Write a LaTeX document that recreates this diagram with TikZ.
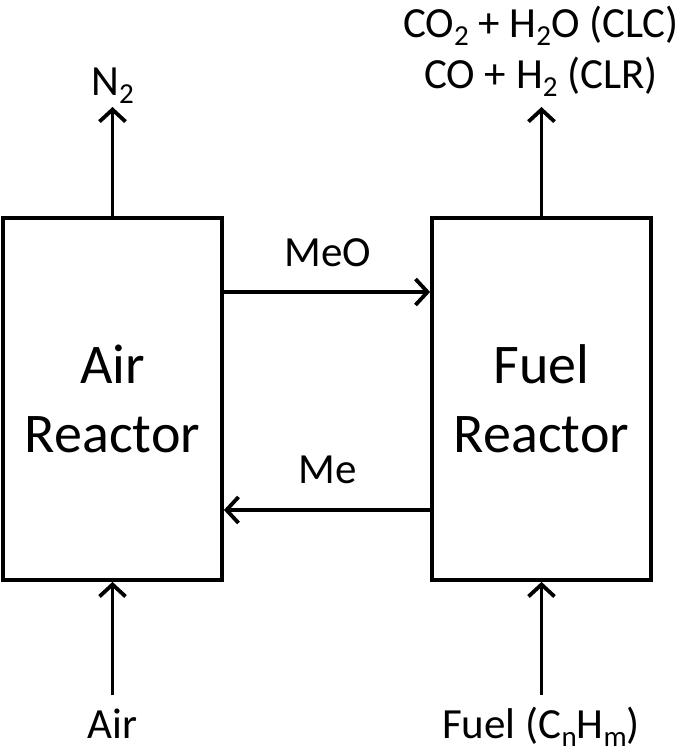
\documentclass[tikz,border=0pt]{standalone}
\usepackage{fontspec}
\setmainfont{Carlito}
\usetikzlibrary{arrows.meta}
\newcommand\lsub[1]{\raisebox{-0.2em}{\fontsize{29}{29}\selectfont #1}}
\begin{document}
\begin{tikzpicture}[x=1pt,y=-1pt,
  box/.style={draw, line width=3.8pt, minimum width=219pt, minimum height=362pt, inner sep=0pt, align=center, font=\fontsize{56}{69}\selectfont},
  lbl/.style={font=\fontsize{43}{51}\selectfont, inner sep=0pt, anchor=base},
  flow/.style={line width=3.8pt, -{Straight Barb[length=12pt,width=26pt,line width=3.8pt]}}]
\useasboundingbox (0,0) rectangle (685,756);
\node[box] (ar) at (112.5,399) {Air\\Reactor};
\node[box] (fr) at (541.5,399) {Fuel\\Reactor};
% labels
\node[lbl] (n2) at (112.5,95) {N\lsub{2}};
\node[lbl] (p1) at (541,37) {CO\lsub{2} + H\lsub{2}O (CLC)};
\node[lbl] (p2) at (541,88) {CO + H\lsub{2} (CLR)};
\node[lbl] (meo) at (328,266) {MeO};
\node[lbl] (me) at (328,483) {Me};
\node[lbl] (air) at (112.5,738) {Air};
\node[lbl] (fuel) at (541,738) {Fuel (C\lsub{n}H\lsub{m})};
% free ends
\coordinate (n2end) at (112.5,107);
\coordinate (pend) at (541.5,107);
\coordinate (airin) at (112.5,695);
\coordinate (fuelin) at (541.5,695);
% connectors
\draw[flow] (ar.north) -- (n2end);
\draw[flow] (fr.north) -- (pend);
\draw[flow] (airin) -- (ar.south);
\draw[flow] (fuelin) -- (fr.south);
\draw[flow] ([yshift=107pt]ar.east) -- ([yshift=107pt]fr.west);
\draw[flow] ([yshift=-111pt]fr.west) -- ([yshift=-111pt]ar.east);
\end{tikzpicture}
\end{document}
